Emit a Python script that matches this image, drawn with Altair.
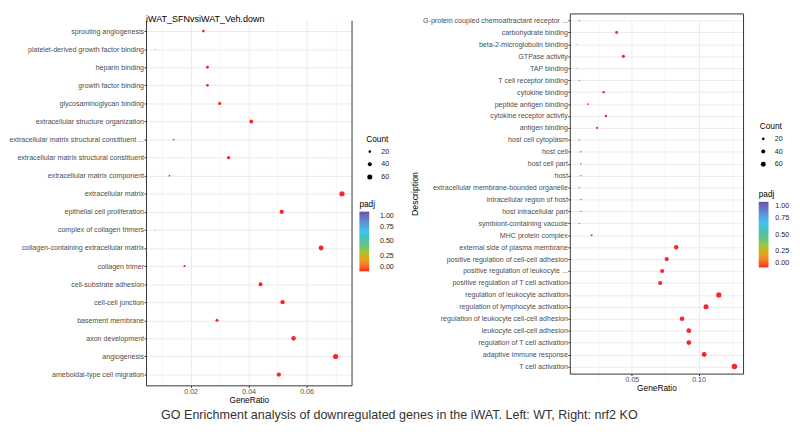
import altair as alt
import pandas as pd

# ---------------- data ----------------
left_terms = [
    "sprouting angiogenesis",
    "platelet-derived growth factor binding",
    "heparin binding",
    "growth factor binding",
    "glycosaminoglycan binding",
    "extracellular structure organization",
    "extracellular matrix structural constituent ...",
    "extracellular matrix structural constituent",
    "extracellular matrix component",
    "extracellular matrix",
    "epithelial cell proliferation",
    "complex of collagen trimers",
    "collagen-containing extracellular matrix",
    "collagen trimer",
    "cell-substrate adhesion",
    "cell-cell junction",
    "basement membrane",
    "axon development",
    "angiogenesis",
    "ameboidal-type cell migration",
]
left_ratio = [0.0244, 0.0079, 0.0258, 0.0258, 0.0300, 0.0409, 0.0141, 0.0331, 0.0127, 0.0722,
              0.0514, 0.0077, 0.0650, 0.0179, 0.0441, 0.0517, 0.0291, 0.0555, 0.0700, 0.0504]
left_count = [21, 7, 23, 23, 26, 36, 12, 29, 11, 63, 45, 7, 57, 16, 39, 45, 25, 49, 61, 44]
left_padj = [0.0004, 0.0021, 0.0009, 0.0011, 0.0006, 0.0002, 0.0018, 0.0005, 0.0019, 0.00001,
             0.0001, 0.0023, 0.00001, 0.0012, 0.0001, 0.0001, 0.0007, 0.0001, 0.00001, 0.0001]

right_terms = [
    "G-protein coupled chemoattractant receptor ...",
    "carbohydrate binding",
    "beta-2-microglobulin binding",
    "GTPase activity",
    "TAP binding",
    "T cell receptor binding",
    "cytokine binding",
    "peptide antigen binding",
    "cytokine receptor activity",
    "antigen binding",
    "host cell cytoplasm",
    "host cell",
    "host cell part",
    "host",
    "extracellular membrane-bounded organelle",
    "intracellular region of host",
    "host intracellular part",
    "symbiont-containing vacuole",
    "MHC protein complex",
    "external side of plasma membrane",
    "positive regulation of cell-cell adhesion",
    "positive regulation of leukocyte ...",
    "positive regulation of T cell activation",
    "regulation of leukocyte activation",
    "regulation of lymphocyte activation",
    "regulation of leukocyte cell-cell adhesion",
    "leukocyte cell-cell adhesion",
    "regulation of T cell activation",
    "adaptive immune response",
    "T cell activation",
]
right_ratio = [0.0106, 0.0385, 0.0090, 0.0436, 0.0090, 0.0106, 0.0288, 0.0171, 0.0305, 0.0239,
               0.0105, 0.0117, 0.0117, 0.0117, 0.0105, 0.0117, 0.0117, 0.0105, 0.0198, 0.0832,
               0.0761, 0.0727, 0.0712, 0.1152, 0.1056, 0.0876, 0.0927, 0.0927, 0.1042, 0.1269]
right_count = [6, 23, 5, 26, 5, 6, 17, 10, 18, 14, 6, 7, 7, 7, 6, 7, 7, 6, 12, 49,
               45, 43, 42, 68, 62, 52, 55, 55, 61, 75]
right_padj = [0.0020, 0.0004, 0.0030, 0.0003, 0.0030, 0.0020, 0.0006, 0.0015, 0.0005, 0.0010,
              0.0020, 0.0018, 0.0018, 0.0018, 0.0020, 0.0018, 0.0018, 0.0020, 0.0012, 0.00001,
              0.00001, 0.00001, 0.00001, 0.00001, 0.00001, 0.00001, 0.00001, 0.00001, 0.00001, 0.00001]

left_title = "iWAT_SFNvsiWAT_Veh.down"
caption = "GO Enrichment analysis of downregulated genes in the iWAT. Left: WT, Right: nrf2 KO"

count_ticks = [20, 40, 60]
padj_ticks = [0, 0.25, 0.5, 0.75, 1]
grad_domain = [0, 1 / 6, 2 / 6, 0.5, 4 / 6, 5 / 6, 1]
grad_colors = ["#F8262A", "#F2962A", "#9EC73B", "#5DBF9E", "#4CC3EC", "#5F8ED6", "#6A4FA5"]

FONT = "Liberation Sans"
DARK = "#333333"


def make_layers(df, terms, x_domain, x_values, major_test, size_domain, size_range,
                y_title, y_range, count_xy, padj_xy, grad_len, grad_label_offset, top_offset):
    x_scale = alt.Scale(domain=x_domain, nice=False, zero=False)
    y_scale = alt.Scale(type="point", padding=0.6, range=y_range)
    x_axis = alt.Axis(
        title="GeneRatio",
        values=x_values,
        labelExpr=f"({major_test}) ? format(datum.value, '.2f') : ''",
        gridWidth={"condition": {"test": major_test, "value": 1}, "value": 0.5},
        tickOpacity={"condition": {"test": major_test, "value": 1}, "value": 0},
        titlePadding=1, domain=True, domainColor=DARK, domainWidth=1,
    )
    if y_title:
        y_axis = alt.Axis(title=y_title, titlePadding=3, titleFontSize=9, grid=True,
                          domain=True, domainColor=DARK, domainWidth=1)
    else:
        y_axis = alt.Axis(title=None, grid=True,
                          domain=True, domainColor=DARK, domainWidth=1)
    points = alt.Chart(df).mark_circle(opacity=1).encode(
        x=alt.X("GeneRatio:Q", scale=x_scale, axis=x_axis),
        y=alt.Y("Description:N", sort=terms, scale=y_scale, axis=y_axis),
        size=alt.Size("Count:Q",
                      scale=alt.Scale(domain=size_domain, range=size_range, zero=False),
                      legend=alt.Legend(title="Count", orient="none",
                                        legendX=count_xy[0], legendY=count_xy[1],
                                        values=count_ticks, symbolFillColor="#000000",
                                        symbolStrokeWidth=0, symbolOpacity=1,
                                        symbolType="circle", labelOffset=8,
                                        rowPadding=5, titlePadding=5, padding=0)),
        color=alt.Color("padj:Q",
                        scale=alt.Scale(domain=grad_domain, range=grad_colors, clamp=True),
                        legend=alt.Legend(title="padj", orient="none",
                                          legendX=padj_xy[0], legendY=padj_xy[1],
                                          values=padj_ticks, format=".2f",
                                          direction="vertical",
                                          gradientLength=grad_len, gradientThickness=10,
                                          gradientStrokeWidth=0,
                                          labelOffset=grad_label_offset,
                                          titlePadding=3, padding=0)),
    )
    frame_enc = {
        "y": alt.Y("Description:N", sort=terms, scale=y_scale,
                   axis=alt.Axis(orient="right", labels=False, ticks=False, grid=False,
                                 title=None, domain=True, domainColor=DARK, domainWidth=1)),
    }
    if top_offset is not None:
        frame_enc["x"] = alt.X("GeneRatio:Q", scale=x_scale,
                               axis=alt.Axis(orient="top", labels=False, ticks=False,
                                             grid=False, title=None, offset=top_offset,
                                             domain=True, domainColor=DARK, domainWidth=1))
        resolve = {"x": "independent", "y": "independent"}
    else:
        resolve = {"y": "independent"}
    frame = alt.Chart(df).mark_circle(opacity=0).encode(**frame_enc)
    return alt.layer(points, frame).resolve_axis(**resolve)


# ---------- left panel (open at the top, like the reference) ----------
left_df = pd.DataFrame({"Description": left_terms, "GeneRatio": left_ratio,
                        "Count": left_count, "padj": left_padj})
left = make_layers(left_df, left_terms, [0.0046, 0.0755],
                   [0.01, 0.02, 0.03, 0.04, 0.05, 0.06, 0.07],
                   "round(datum.value * 100) % 2 == 0",
                   [7, 63], [1, 28], None, [0, 373],
                   (225, 117), (218, 184), 61, 11, None
                   ).properties(
    width=210, height=373,
    view=alt.ViewBackground(stroke="transparent"),
    title=alt.TitleParams(left_title, anchor="start", frame="group",
                          fontSize=9.2, offset=-4),
)

# ---------- right panel (closed frame, starts higher) ----------
right_df = pd.DataFrame({"Description": right_terms, "GeneRatio": right_ratio,
                         "Count": right_count, "padj": right_padj})
right = make_layers(right_df, right_terms, [0.0034, 0.1334],
                    [0.025, 0.05, 0.075, 0.1, 0.125],
                    "round(datum.value * 40) % 2 == 0",
                    [5, 75], [1, 32], "Description", [-7, 361],
                    (194, 104), (193, 174), 67, 7, 7
                    ).properties(
    width=177, height=361,
    view=alt.ViewBackground(stroke="transparent"),
)

chart = alt.concat(left, right, columns=2, spacing=14).resolve_scale(
    color="independent", size="independent"
).properties(
    title=alt.TitleParams(caption, orient="bottom", anchor="middle",
                          fontSize=12.8, offset=5, color="#333333"),
    padding={"left": 0, "top": 0, "right": 1, "bottom": 0},
    background="white",
).configure_axis(
    labelFont=FONT, titleFont=FONT, labelFontSize=7.25, labelColor="#4D4D4D",
    titleFontSize=8.5, titleFontWeight="normal", titleColor="#000000",
    tickColor=DARK, tickSize=2, labelPadding=0.5,
    gridColor="#EBEBEB",
).configure_view(
    stroke="transparent",
).configure_legend(
    titleFont=FONT, labelFont=FONT, titleFontSize=8.5, labelFontSize=7.3,
    titleFontWeight="normal", titleColor="#000000", labelColor="#222222",
).configure_title(
    font=FONT, fontWeight="normal", color="#000000",
)

chart.save("out.html", embed_options={"renderer": "svg", "actions": False})
